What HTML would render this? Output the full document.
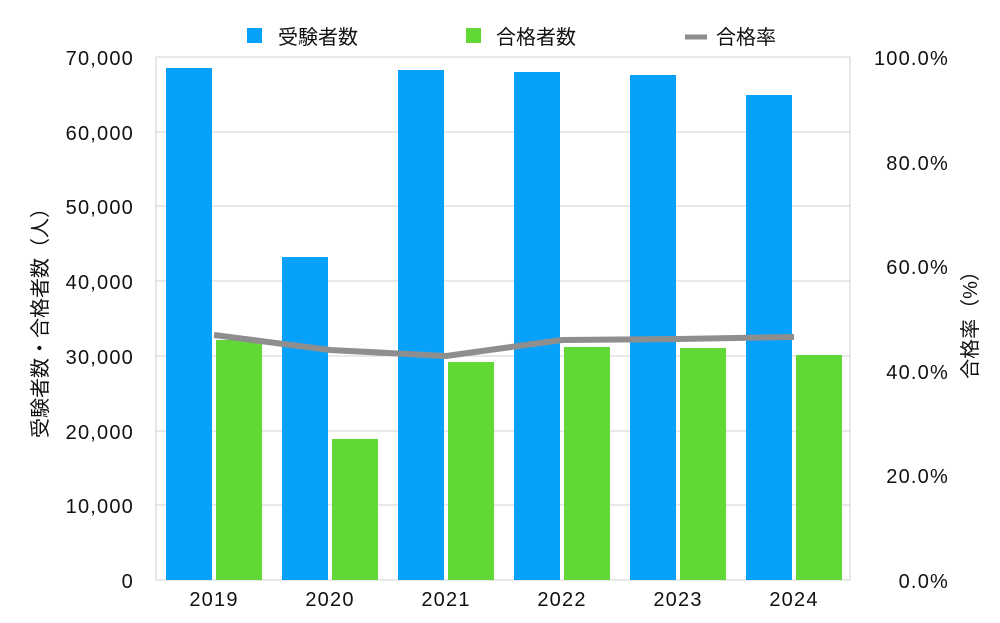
<!DOCTYPE html>
<html><head><meta charset="utf-8"><style>
body{margin:0;background:#fff}
svg{display:block;font-family:"Liberation Sans","Noto Sans CJK JP",sans-serif}
</style></head><body>
<svg width="1000" height="623" viewBox="0 0 1000 623">
<g stroke="#d0d0d0" stroke-width="1">
<line x1="156" y1="57" x2="850" y2="57"/>
<line x1="156" y1="132" x2="850" y2="132"/>
<line x1="156" y1="206" x2="850" y2="206"/>
<line x1="156" y1="281" x2="850" y2="281"/>
<line x1="156" y1="356" x2="850" y2="356"/>
<line x1="156" y1="431" x2="850" y2="431"/>
<line x1="156" y1="505" x2="850" y2="505"/>
<line x1="156" y1="580" x2="850" y2="580"/>
<line x1="156" y1="57" x2="156" y2="580"/>
<line x1="850" y1="57" x2="850" y2="580"/>
</g>
<g fill="#07a1fb">
<rect x="166" y="68" width="46" height="512"/>
<rect x="282" y="257" width="46" height="323"/>
<rect x="398" y="70" width="46" height="510"/>
<rect x="514" y="72" width="46" height="508"/>
<rect x="630" y="75" width="46" height="505"/>
<rect x="746" y="95" width="46" height="485"/>
</g>
<g fill="#61d836">
<rect x="216" y="340" width="46" height="240"/>
<rect x="332" y="439" width="46" height="141"/>
<rect x="448" y="362" width="46" height="218"/>
<rect x="564" y="347" width="46" height="233"/>
<rect x="680" y="348" width="46" height="232"/>
<rect x="796" y="355" width="46" height="225"/>
</g>
<polyline points="214,335 330,350 446,356 562,340 678,339 794,337" fill="none" stroke="#8e8e8e" stroke-width="6" stroke-linejoin="round"/>
<g font-size="20" fill="#111" text-anchor="end" letter-spacing="1.2">
<text x="134" y="65">70,000</text>
<text x="134" y="140">60,000</text>
<text x="134" y="214">50,000</text>
<text x="134" y="289">40,000</text>
<text x="134" y="364">30,000</text>
<text x="134" y="439">20,000</text>
<text x="134" y="513">10,000</text>
<text x="134" y="588">0</text>
<text x="949" y="65">100.0%</text>
<text x="949" y="170">80.0%</text>
<text x="949" y="274">60.0%</text>
<text x="949" y="379">40.0%</text>
<text x="949" y="483">20.0%</text>
<text x="949" y="588">0.0%</text>
</g>
<g font-size="20" fill="#111" text-anchor="middle" letter-spacing="1.2">
<text x="214" y="606">2019</text>
<text x="330" y="606">2020</text>
<text x="446" y="606">2021</text>
<text x="562" y="606">2022</text>
<text x="678" y="606">2023</text>
<text x="794" y="606">2024</text>
</g>
<g font-size="20" fill="#111" text-anchor="middle">
<text transform="translate(47,318) rotate(-90)">受験者数・合格者数（人）</text>
<text transform="translate(977,320) rotate(-90)">合格率（%）</text>
</g>
<rect x="247" y="28" width="15" height="15" fill="#07a1fb"/>
<rect x="466" y="28" width="15" height="15" fill="#61d836"/>
<line x1="685" y1="37" x2="707" y2="37" stroke="#8e8e8e" stroke-width="5"/>
<g font-size="20" fill="#111">
<text x="278" y="44">受験者数</text>
<text x="496" y="44">合格者数</text>
<text x="716" y="44">合格率</text>
</g>
</svg>
</body></html>
